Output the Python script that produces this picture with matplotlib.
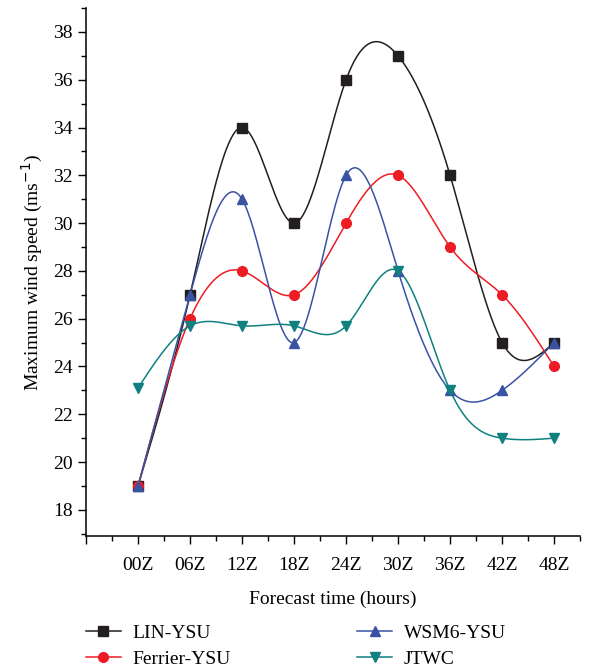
import numpy as np
import matplotlib
matplotlib.use("Agg")
from matplotlib import pyplot as plt
from matplotlib.ticker import MultipleLocator, FixedLocator
from matplotlib.lines import Line2D

times = ["00Z", "06Z", "12Z", "18Z", "24Z", "30Z", "36Z", "42Z", "48Z"]
lin_ysu = [19, 27, 34, 30, 36, 37, 32, 25, 25]
ferrier_ysu = [19, 26, 28, 27, 30, 32, 29, 27, 24]
wsm6_ysu = [19, 27, 31, 25, 32, 28, 23, 23, 25]
jtwc = [23.1, 25.7, 25.7, 25.7, 25.7, 28, 23, 21, 21]

names = ["LIN-YSU", "Ferrier-YSU", "WSM6-YSU", "JTWC"]
colors = ["#231f20", "#ed1c24", "#3953a4", "#108080"]
markers = ["s", "o", "^", "v"]

plt.rcParams['font.family'] = ['Liberation Serif', 'DejaVu Serif']


def natural_spline(x, y, n=400):
    # natural cubic spline, like Origin's "spline" line connection
    x = np.asarray(x, float)
    y = np.asarray(y, float)
    k = len(x)
    h = np.diff(x)
    A = np.zeros((k, k))
    b = np.zeros(k)
    A[0, 0] = A[-1, -1] = 1
    for i in range(1, k - 1):
        A[i, i - 1] = h[i - 1]
        A[i, i] = 2 * (h[i - 1] + h[i])
        A[i, i + 1] = h[i]
        b[i] = 6 * ((y[i + 1] - y[i]) / h[i] - (y[i] - y[i - 1]) / h[i - 1])
    M = np.linalg.solve(A, b)
    xs = np.linspace(x[0], x[-1], n)
    idx = np.clip(np.searchsorted(x, xs) - 1, 0, k - 2)
    x0, x1 = x[idx], x[idx + 1]
    hh = x1 - x0
    t0 = x1 - xs
    t1 = xs - x0
    ys = (M[idx] * t0**3 + M[idx + 1] * t1**3) / (6 * hh) \
        + (y[idx] / hh - M[idx] * hh / 6) * t0 \
        + (y[idx + 1] / hh - M[idx + 1] * hh / 6) * t1
    return xs, ys


fig = plt.figure(figsize=(6.1, 6.71), dpi=100)
ax = fig.add_axes([0.141, 0.201, 0.810, 0.787])

xpos = np.arange(len(times))
series = [lin_ysu, ferrier_ysu, wsm6_ysu, jtwc]
handles = []
for vals, name, c, m in zip(series, names, colors, markers):
    xs, ys = natural_spline(xpos, vals)
    ax.plot(xs, ys, color=c, lw=1.1, zorder=2)
    ax.plot(xpos, vals, ls="none", marker=m, color=c, ms=7, zorder=3)
    handles.append(Line2D([], [], color=c, lw=1.1, marker=m, ms=7, label=name))

ax.set_xlim(-1, 8.5)
ax.set_ylim(16.9, 39)
ax.xaxis.set_major_locator(FixedLocator(np.arange(-1, 9)))
ax.xaxis.set_minor_locator(FixedLocator(np.arange(-0.5, 9, 1.0)))
ax.set_xticklabels([""] + times)
ax.yaxis.set_major_locator(MultipleLocator(2))
ax.yaxis.set_minor_locator(MultipleLocator(1))
ax.set_yticks(np.arange(18, 39, 2))

for s in ["top", "right"]:
    ax.spines[s].set_visible(False)
for s in ["left", "bottom"]:
    ax.spines[s].set_linewidth(1.1)
ax.tick_params(which="major", direction="out", length=6, width=1.0, labelsize=14)
ax.tick_params(which="minor", direction="out", length=3.5, width=1.0)
ax.tick_params(axis="x", pad=9)

ax.set_xlabel("Forecast time (hours)", fontsize=14, labelpad=12)
ax.set_ylabel("Maximum wind speed (ms$^{-1}$)", fontsize=14, labelpad=6)

fig.legend(handles=handles,
           loc="lower left", bbox_to_anchor=(0.112, -0.022), ncol=2, frameon=False,
           fontsize=14, columnspacing=6.5, handlelength=1.8,
           labelspacing=0.45, handletextpad=0.6)

fig.savefig("out.png", dpi=100)
